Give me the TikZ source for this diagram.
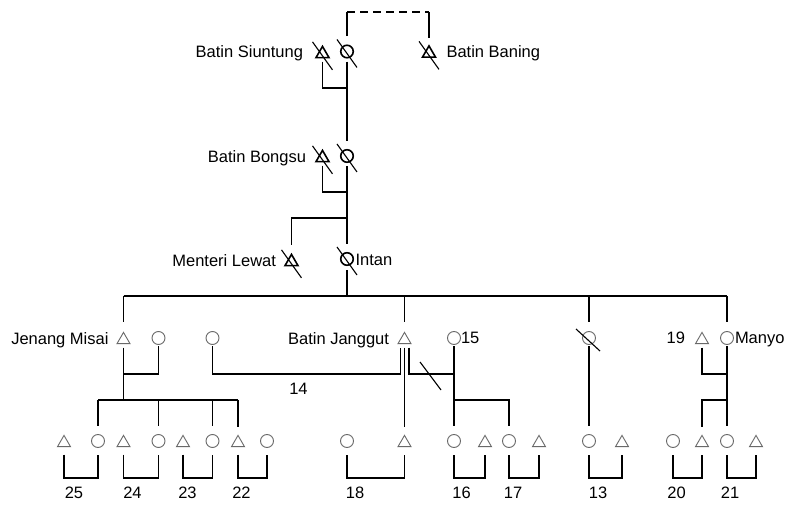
\documentclass[tikz,border=0pt]{standalone}
\usepackage{fontspec}
\setmainfont{Liberation Sans}
\usetikzlibrary{shapes.geometric}
\definecolor{symgray}{RGB}{105,105,105}
\newcommand\deadslash[1]{\draw[slashln] ([shift={(-10pt,12pt)}]#1) -- ([shift={(10pt,-16pt)}]#1);}
\begin{document}
\begin{tikzpicture}[x=1pt,y=-1pt,
  conn/.style={line width=1.1pt, black},
  slashln/.style={line width=1.1pt, black},
  tfem/.style={circle, draw=black, line width=1.6pt, minimum size=12.5pt, inner sep=0pt, outer sep=0pt},
  tmal/.style={regular polygon, regular polygon sides=3, draw=black, line width=1.6pt, minimum size=15pt, inner sep=0pt, outer sep=0pt, yshift=-1.9pt},
  lfem/.style={circle, draw=symgray, line width=0.9pt, minimum size=13pt, inner sep=0pt, outer sep=0pt},
  lmal/.style={regular polygon, regular polygon sides=3, draw=symgray, line width=0.9pt, minimum size=15pt, inner sep=0pt, outer sep=0pt, yshift=-1.9pt},
  lab/.style={font=\fontsize{16.5pt}{19pt}\selectfont, inner sep=0pt, outer sep=0pt}]
\fill[white] (0,0) rectangle (788,529);
\useasboundingbox (0,0) rectangle (788,529);

% generation 1
\node[tmal] (tsiu) at (322.5,52) {};
\node[tfem] (ctop) at (347,51.5) {};
\node[tmal] (tban) at (429,51.5) {};
% generation 2
\node[tmal] (tbon) at (322.5,156) {};
\node[tfem] (cbon) at (347,156) {};
% generation 3
\node[tmal] (tmen) at (291.5,260) {};
\node[tfem] (cint) at (347,259) {};
% generation 4
\node[lmal] (tjm) at (123.5,338) {};
\node[lfem] (cjm) at (158.5,338) {};
\node[lfem] (c14) at (212.5,338) {};
\node[lmal] (tjg) at (404.5,338) {};
\node[lfem] (c15) at (454,338) {};
\node[lfem] (cdd) at (589,338) {};
\node[lmal] (t19) at (702,338) {};
\node[lfem] (cmy) at (727,338) {};
% generation 5
\foreach \n/\s/\x in {k25t/lmal/64, k25c/lfem/98, k24t/lmal/123.5, k24c/lfem/158.5,
  k23t/lmal/183, k23c/lfem/212.5, k22t/lmal/238, k22c/lfem/267,
  k18c/lfem/347, k18t/lmal/404.5, k16c/lfem/454, k16t/lmal/485,
  k17c/lfem/509, k17t/lmal/539, k13c/lfem/589, k13t/lmal/622,
  k20c/lfem/673, k20t/lmal/702, k21c/lfem/727, k21t/lmal/756}
  \node[\s] (\n) at (\x,441) {};

% deceased marks
\deadslash{tsiu.center}
\deadslash{ctop.center}
\deadslash{tban.center}
\deadslash{tbon.center}
\deadslash{cbon.center}
\deadslash{tmen.center}
\deadslash{cint.center}
\draw[slashln] ([shift={(-13pt,9pt)}]cdd.center) -- ([shift={(11pt,-13pt)}]cdd.center);

% labels
\node[lab, anchor=base east] (lsiu) at (303,57.5) {Batin Siuntung};
\node[lab, anchor=base west] (lban) at (446.5,57.5) {Batin Baning};
\node[lab, anchor=base east] (lbon) at (306,162.5) {Batin Bongsu};
\node[lab, anchor=base east] (lmen) at (276,266.5) {Menteri Lewat};
\node[lab, anchor=base west] (lint) at (355.5,266) {Intan};
\node[lab, anchor=base east] (ljm) at (108.5,344.5) {Jenang Misai};
\node[lab, anchor=base east] (ljg) at (389,344.5) {Batin Janggut};
\node[lab, anchor=base west] (l15) at (461,343.5) {15};
\node[lab, anchor=base east] (l19) at (685,343.5) {19};
\node[lab, anchor=base west] (lmy) at (735,343.5) {Manyo};
\node[lab, anchor=base] (l14) at (298.5,395) {14};
\foreach \t/\x in {25/74, 24/132.5, 23/187.5, 22/241.5, 18/355, 16/461.5, 17/513, 13/598, 20/676.5, 21/730}
  \node[lab, anchor=base] (n\t) at (\x,499) {\t};

% connectors, top
\coordinate (dl) at (347,12);
\coordinate (dr) at (429,12);
\draw[conn, shorten <=9pt] (ctop.north) -- (dl);
\draw[conn, dash pattern=on 8pt off 5pt] (dl) -- (dr);
\draw[conn, shorten >=8pt] (dr) -- (tban.north);

\coordinate (m1) at (0,88);
\draw[conn, shorten <=4pt, shorten >=4pt] (tsiu.south) -- (tsiu.south |- m1) -| (ctop.south);
\draw[conn, shorten <=4pt, shorten >=9pt] (ctop.south) -- (cbon.north);
\coordinate (m2) at (0,192);
\draw[conn, shorten <=4pt, shorten >=4pt] (tbon.south) -- (tbon.south |- m2) -| (cbon.south);
\draw[conn, shorten <=4pt, shorten >=9pt] (cbon.south) -- (cint.north);
\coordinate (s3) at (347,218);
\draw[conn, shorten >=9pt] (s3) -| (tmen.north);

% generation 4 siblings
\coordinate (s4) at (347,296);
\draw[conn, shorten <=5pt] (cint.south) -- (s4);
\coordinate (s4l) at (123.5,296);
\coordinate (s4r) at (727,296);
\draw[conn] (s4l) -- (s4r);
\draw[conn, shorten >=10pt] (s4l) -- (tjm.north);
\draw[conn, shorten >=10pt] (tjg.north |- s4l) -- (tjg.north);
\draw[conn, shorten >=9pt] (cdd.north |- s4l) -- (cdd.north);
\draw[conn, shorten >=9pt] (s4r) -- (cmy.north);

% generation 4 marriages and descent
\coordinate (m4) at (0,374);
\coordinate (s5) at (0,400);
\draw[conn, shorten <=4pt, shorten >=2pt] (tjm.south) -- (tjm.south |- m4) -| (cjm.south);
\draw[conn] (tjm.south |- m4) -- (tjm.south |- s5);
\draw[conn] (k25c.north |- s5) -- (k22t.north |- s5);
\foreach \k in {k25c,k24c,k23c,k22t}
  \draw[conn, shorten >=8pt] (\k.north |- s5) -- (\k.north);

\draw[conn, shorten <=2pt, shorten >=4pt] (c14.south) -- (c14.south |- m4) -| ([xshift=-4pt]tjg.south);
\draw[conn, shorten <=4pt, shorten >=8pt] (tjg.south) -- (k18t.north);
\draw[conn, shorten <=4pt, shorten >=2pt] ([xshift=4.5pt]tjg.south) -- ([xshift=4.5pt]tjg.south |- m4) -| (c15.south);
\draw[conn, shorten <=2pt, shorten >=8pt] (c15.south) -- (k16c.north);
\draw[conn, shorten >=8pt] (c15.south |- s5) -| (k17c.north);
\coordinate (dv1) at (420,362);
\coordinate (dv2) at (441,390);
\draw[slashln] (dv1) -- (dv2);

\draw[conn, shorten <=2pt, shorten >=8pt] (cdd.south) -- (k13c.north);
\draw[conn, shorten <=4pt, shorten >=2pt] (t19.south) -- (t19.south |- m4) -| (cmy.south);
\draw[conn, shorten <=2pt, shorten >=8pt] (cmy.south) -- (k21c.north);
\draw[conn, shorten >=8pt] (cmy.south |- s5) -| (k20t.north);

% generation 5 marriages
\coordinate (m6) at (0,478);
\foreach \a/\b in {k25t/k25c, k24t/k24c, k23t/k23c, k22t/k22c, k18c/k18t,
  k16c/k16t, k17c/k17t, k13c/k13t, k20c/k20t, k21c/k21t}
  \draw[conn, shorten <=8pt, shorten >=8pt] (\a.south) -- (\a.south |- m6) -| (\b.south);
\end{tikzpicture}
\end{document}
